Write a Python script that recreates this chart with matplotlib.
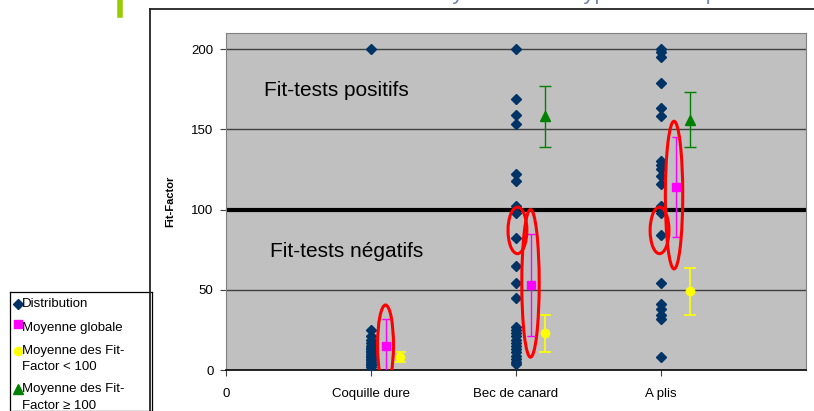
import numpy as np
import matplotlib.pyplot as plt
from matplotlib.patches import Ellipse
from matplotlib.lines import Line2D

plt.rcParams['font.family'] = ['Liberation Sans', 'DejaVu Sans']

# data
categories = ['Coquille dure', 'Bec de canard', 'A plis']
coquille = [200, 25, 21, 19, 17, 15, 14, 13, 12, 11, 10, 9, 8, 7, 6, 5, 4, 3, 2]
bec = [200, 169, 159, 153, 122, 118, 102, 98, 82, 65, 54, 45,
       27, 25, 23, 21, 19, 17, 15, 13, 11, 9, 7, 5, 4]
plis = [200, 198, 195, 179, 163, 158, 130, 128, 125, 121, 116, 102, 98, 84,
        54, 41, 38, 34, 32, 8]
mean_all = [15, 53, 114]
err_all = [17, 32, 31]
mean_low = [8, 23, 49]
err_low = [3, 11.5, 14.5]
mean_high = [np.nan, 158, 156]
err_high = [0, 19, 17]

# red circles drawn over the chart (x, y, width, height in data units)
circles = [(1.10, 15.5, 0.11, 50), (2.01, 87, 0.13, 29), (2.10, 54, 0.12, 92),
           (2.99, 87, 0.13, 29), (3.09, 109, 0.12, 92)]

fig = plt.figure(figsize=(8.14, 4.11), dpi=100)
W, H = 814, 411
ax = fig.add_axes([226 / W, 1 - 370 / H, 580 / W, 337 / H])
ax.set_facecolor('#C0C0C0')

x = np.arange(1, len(categories) + 1)
for xi, vals in zip(x, [coquille, bec, plis]):
    ax.plot([xi] * len(vals), vals, linestyle='none', marker='D',
            color='#003366', markersize=5, zorder=3)

ax.errorbar(x + 0.1, mean_all, yerr=err_all, fmt='s', color='#FF00FF',
            markersize=6, elinewidth=1, capsize=3, capthick=1, zorder=4)
ax.errorbar(x + 0.2, mean_low, yerr=err_low, fmt='o', color='#FFFF00',
            markersize=6, elinewidth=1.2, capsize=4, capthick=1.2, zorder=4)
ax.errorbar(x + 0.2, mean_high, yerr=err_high, fmt='^', color='#008000',
            markersize=7, elinewidth=1, capsize=4, capthick=1, zorder=4)

for cx, cy, w, h in circles:
    ax.add_patch(Ellipse((cx, cy), w, h, fill=False, edgecolor='#FF0000',
                         linewidth=2.2, zorder=5))

for yv in [50, 150, 200]:
    ax.axhline(yv, color='#404040', linewidth=1, zorder=1)
ax.axhline(100, color='black', linewidth=3, zorder=2)

ax.text(0.26, 174, 'Fit-tests positifs', fontsize=15, va='center')
ax.text(0.30, 74, 'Fit-tests négatifs', fontsize=15, va='center')

ax.set_xlim(0, 4)
ax.set_ylim(0, 210)
ax.set_xticks([0] + list(x))
ax.set_xticklabels(['0'] + categories, fontsize=9.5)
ax.set_yticks([0, 50, 100, 150, 200])
ax.tick_params(axis='y', labelsize=9.5, length=4, pad=5, color='#404040')
ax.tick_params(axis='x', length=4, pad=9, color='#404040')
ax.set_ylabel('Fit-Factor', fontsize=8, fontweight='bold')
ax.yaxis.set_label_coords(-0.088, 0.5)
for s in ['top', 'right', 'left']:
    ax.spines[s].set_color('#808080')
ax.spines['bottom'].set_color('black')
ax.spines['bottom'].set_linewidth(1.2)

# outer chart frame and the title, cut off at the top as in the slide
fig.add_artist(Line2D([150 / W, 150 / W], [0, 1 - 9 / H], color='#222222', linewidth=1.3))
fig.add_artist(Line2D([150 / W, 1], [1 - 9 / H, 1 - 9 / H], color='#222222', linewidth=1.3))
fig.add_artist(Line2D([120 / W, 120 / W], [1 - 15 / H, 1], color='#99CC00', linewidth=4))
fig.text(735 / W, 1 + 1 / H, 'Fit-Factor moyen selon le type de masque',
         fontsize=16, color='#6D86A8', ha='right', va='baseline')

# legend box drawn by hand
lg = fig.add_axes([10 / W, 0, 142 / W, (H - 292) / H])
lg.set_xlim(10, 152)
lg.set_ylim(411, 292)
lg.set_xticks([])
lg.set_yticks([])
lg.patch.set_facecolor('white')
for s in lg.spines.values():
    s.set_color('black')
    s.set_linewidth(0.9)
lg.plot(18, 304, marker='D', color='#003366', markersize=5)
lg.text(22, 304, 'Distribution', fontsize=9.5, va='center')
lg.plot(18, 324, marker='s', color='#FF00FF', markersize=6)
lg.text(22, 328, 'Moyenne globale', fontsize=9.5, va='center')
lg.plot(18, 351, marker='o', color='#FFFF00', markersize=6)
lg.text(22, 351, 'Moyenne des Fit-', fontsize=9.5, va='center')
lg.text(22, 367, 'Factor < 100', fontsize=9.5, va='center')
lg.plot(18, 389, marker='^', color='#008000', markersize=7)
lg.text(22, 389, 'Moyenne des Fit-', fontsize=9.5, va='center')
lg.text(22, 406, 'Factor ≥ 100', fontsize=9.5, va='center')

fig.savefig('out.png', dpi=100)
